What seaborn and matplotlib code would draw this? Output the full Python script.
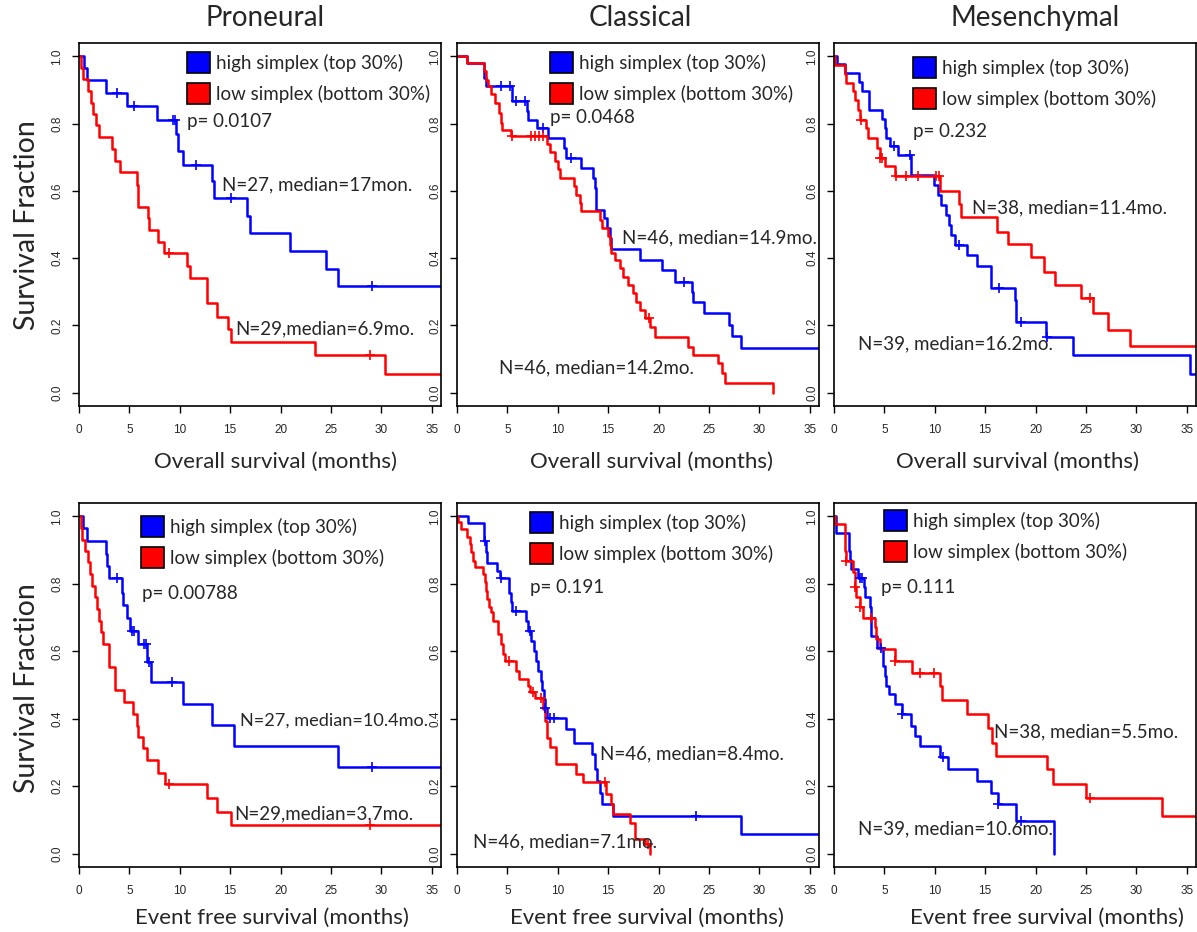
import numpy as np
import seaborn as sns
import matplotlib.pyplot as plt
from matplotlib.patches import Rectangle

# Kaplan-Meier steps: time of each drop (months) and survival after it,
# censor times, and last follow-up time of each group.

# Proneural, overall survival
pn_os_hi_t = [0.5, 0.83, 2.68, 4.8, 7.72, 9.64, 9.87, 10.3, 13.18, 13.4, 16.66, 17.0, 20.96, 24.5, 25.7]
pn_os_hi_s = [0.965, 0.929, 0.891, 0.853, 0.8115, 0.769, 0.719, 0.676, 0.628, 0.578, 0.526, 0.474, 0.422, 0.368, 0.316]
pn_os_hi_c = [3.74, 5.46, 9.3, 9.54, 11.6, 15.1, 29.07]
pn_os_lo_t = [0.17, 0.36, 0.93, 1.16, 1.36, 1.69, 1.99, 3.31, 3.58, 4.07, 5.79, 5.89, 6.82, 6.95, 7.88, 8.48,
              10.7, 11.03, 12.68, 13.74, 14.74, 15.07, 23.44, 30.4]
pn_os_lo_s = [0.965, 0.9325, 0.896, 0.861, 0.828, 0.795, 0.759, 0.725, 0.69, 0.656, 0.618, 0.552, 0.519, 0.484,
              0.449, 0.415, 0.378, 0.34, 0.266, 0.226, 0.189, 0.152, 0.112, 0.056]
pn_os_lo_c = [8.97, 28.84]

# Classical, overall survival
cl_os_hi_t = [1.03, 2.68, 2.91, 5.46, 6.99, 7.05, 7.98, 9.04, 10.63, 10.86, 12.35, 13.51, 13.68, 13.84, 14.6,
              14.93, 15.17, 15.33, 18.15, 20.3, 21.62, 23.28, 23.44, 24.54, 27.02, 27.25, 28.18]
cl_os_hi_s = [0.98, 0.936, 0.911, 0.866, 0.836, 0.8115, 0.787, 0.757, 0.727, 0.698, 0.668, 0.638, 0.608, 0.544,
              0.519, 0.491, 0.461, 0.428, 0.395, 0.365, 0.33, 0.3, 0.271, 0.236, 0.201, 0.17, 0.134]
cl_os_hi_c = [4.4, 5.3, 5.89, 6.79, 8.54, 11.36, 22.55]
cl_os_lo_t = [1.03, 2.68, 2.91, 3.08, 3.41, 3.74, 4.14, 4.4, 4.5, 5.4, 8.97, 9.2, 9.7, 10.0, 10.2, 11.62, 11.85,
              12.19, 12.35, 14.17, 14.34, 15.0, 15.17, 15.33, 15.66, 16.16, 16.49, 16.99, 17.48, 17.81, 18.15,
              18.64, 19.14, 19.64, 22.95, 23.44, 25.86, 26.26, 26.59, 31.39]
cl_os_lo_s = [0.98, 0.955, 0.931, 0.911, 0.888, 0.861, 0.831, 0.802, 0.782, 0.762, 0.74, 0.715, 0.69, 0.665,
              0.638, 0.613, 0.588, 0.563, 0.541, 0.514, 0.491, 0.467, 0.44, 0.415, 0.395, 0.372, 0.345, 0.32,
              0.296, 0.271, 0.246, 0.221, 0.196, 0.167, 0.137, 0.112, 0.087, 0.058, 0.028, 0.0]
cl_os_lo_c = [5.46, 7.32, 7.78, 8.11, 8.54, 19.1]

# Mesenchymal, overall survival
me_os_hi_t = [0.3, 1.06, 2.48, 2.78, 3.48, 4.77, 5.03, 5.2, 5.53, 6.36, 7.62, 9.93, 10.33, 10.6, 11.16, 11.39,
              11.59, 11.99, 13.15, 14.14, 15.53, 17.95, 18.05, 21.03, 23.74, 35.33]
me_os_hi_s = [0.977, 0.95, 0.924, 0.896, 0.841, 0.815, 0.787, 0.757, 0.732, 0.707, 0.646, 0.616, 0.588, 0.559,
              0.529, 0.499, 0.469, 0.44, 0.408, 0.378, 0.3125, 0.276, 0.209, 0.167, 0.112, 0.055]
me_os_hi_c = [5.96, 7.5, 12.4, 16.36, 18.54, 21.1]
me_os_lo_t = [0.07, 1.13, 1.23, 1.89, 2.05, 2.38, 2.55, 3.21, 3.38, 4.3, 4.54, 5.03, 6.09, 10.5, 12.42, 12.65,
              16.13, 17.22, 19.54, 20.83, 21.92, 24.5, 25.73, 27.15, 29.37]
me_os_lo_s = [0.975, 0.947, 0.921, 0.896, 0.871, 0.841, 0.8115, 0.787, 0.757, 0.727, 0.699, 0.673, 0.643,
              0.601, 0.56, 0.521, 0.479, 0.441, 0.402, 0.36, 0.32, 0.281, 0.236, 0.187, 0.14]
me_os_lo_c = [2.72, 4.6, 4.77, 6.19, 7.12, 8.34, 10.17, 10.45, 25.4]

# Proneural, event free survival
pn_ef_hi_t = [0.43, 0.83, 2.68, 2.81, 3.01, 4.24, 4.4, 4.8, 5.07, 5.89, 6.72, 7.12, 10.36, 13.18, 15.4, 25.7]
pn_ef_hi_s = [0.964, 0.928, 0.888, 0.854, 0.816, 0.774, 0.738, 0.7, 0.661, 0.621, 0.567, 0.51, 0.445, 0.382,
              0.318, 0.257]
pn_ef_hi_c = [3.81, 5.23, 5.46, 6.46, 6.66, 6.99, 9.27, 29.07]
pn_ef_lo_t = [0.17, 0.33, 0.6, 0.93, 1.09, 1.26, 1.59, 1.75, 1.99, 2.15, 2.42, 3.01, 3.58, 4.47, 5.4, 5.73,
              5.89, 6.32, 6.79, 7.88, 8.54, 12.68, 13.74, 15.07]
pn_ef_lo_s = [0.965, 0.931, 0.898, 0.864, 0.829, 0.794, 0.76, 0.725, 0.69, 0.656, 0.621, 0.552, 0.485, 0.451,
              0.415, 0.379, 0.346, 0.313, 0.277, 0.24, 0.208, 0.166, 0.125, 0.085]
pn_ef_lo_c = [8.97, 28.84]

# Classical, event free survival
cl_ef_hi_t = [1.09, 2.68, 2.91, 3.01, 4.0, 4.24, 5.13, 5.33, 5.46, 6.89, 7.05, 7.38, 7.65, 7.88, 8.05, 8.31,
              8.48, 8.64, 8.77, 8.97, 10.86, 11.62, 13.44, 13.68, 13.94, 14.17, 14.4, 15.5, 28.18]
cl_ef_hi_s = [0.979, 0.928, 0.893, 0.863, 0.839, 0.816, 0.774, 0.745, 0.718, 0.69, 0.661, 0.631, 0.601, 0.572,
              0.542, 0.513, 0.485, 0.458, 0.433, 0.402, 0.369, 0.329, 0.295, 0.25, 0.216, 0.181, 0.146, 0.112,
              0.057]
cl_ef_hi_c = [2.81, 4.4, 5.89, 7.22, 8.77, 9.21, 9.64, 23.68]
cl_ef_lo_t = [0.1, 0.36, 1.03, 1.26, 1.42, 1.59, 1.75, 2.58, 2.81, 2.91, 3.01, 3.15, 3.34, 3.58, 4.07, 4.34,
              4.57, 4.8, 5.89, 6.13, 7.05, 7.22, 7.78, 8.54, 8.77, 8.97, 9.21, 9.87, 11.85, 12.52, 14.83, 15.33,
              15.5, 17.15, 17.65, 18.64, 19.14]
cl_ef_lo_s = [0.982, 0.962, 0.938, 0.918, 0.893, 0.868, 0.849, 0.829, 0.804, 0.779, 0.754, 0.73, 0.715, 0.69,
              0.651, 0.621, 0.591, 0.57, 0.542, 0.517, 0.498, 0.478, 0.461, 0.428, 0.394, 0.344, 0.317, 0.265,
              0.235, 0.211, 0.178, 0.146, 0.117, 0.092, 0.043, 0.028, 0.0]
cl_ef_lo_c = [5.13, 7.55, 8.31, 14.67, 18.97]

# Mesenchymal, event free survival
me_ef_hi_t = [0.23, 1.46, 1.56, 1.72, 2.38, 2.98, 3.05, 3.54, 3.64, 3.71, 4.3, 4.87, 5.03, 5.2, 5.43, 6.03,
              6.75, 7.62, 8.01, 8.51, 10.5, 11.32, 14.14, 15.53, 16.23, 18.01, 21.85]
me_ef_hi_s = [0.952, 0.898, 0.871, 0.844, 0.817, 0.79, 0.76, 0.73, 0.676, 0.646, 0.611, 0.557, 0.527, 0.498,
              0.473, 0.443, 0.413, 0.379, 0.349, 0.319, 0.287, 0.25, 0.216, 0.181, 0.146, 0.097, 0.0]
me_ef_hi_c = [2.55, 2.78, 4.64, 6.75, 10.83, 16.29, 18.54]
me_ef_lo_t = [0.13, 1.06, 1.23, 1.89, 2.05, 2.22, 2.55, 2.88, 4.04, 4.2, 4.54, 6.09, 7.75, 10.5, 10.73, 13.15,
              15.3, 15.63, 16.03, 21.09, 21.75, 25.0, 32.52]
me_ef_lo_s = [0.977, 0.898, 0.868, 0.834, 0.79, 0.76, 0.73, 0.7, 0.671, 0.636, 0.606, 0.572, 0.537, 0.498,
              0.455, 0.413, 0.374, 0.329, 0.29, 0.25, 0.208, 0.166, 0.112]
me_ef_lo_c = [1.23, 2.1, 2.55, 3.71, 6.09, 8.51, 9.93, 25.4]

# last follow-up per panel (high, low); 40 = still followed beyond the axis
last_followup = [(40, 40), (40, 31.39), (40, 40), (40, 40), (40, 19.14), (21.85, 40)]

subtypes = ['Proneural', 'Classical', 'Mesenchymal']
row_xlabels = ['Overall survival (months)', 'Event free survival (months)']
legend_labels = ['high simplex (top 30%)', 'low simplex (bottom 30%)']
p_values = ['p= 0.0107', 'p= 0.0468', 'p= 0.232', 'p= 0.00788', 'p= 0.191', 'p= 0.111']
n_text_a = ['N=27, median=17mon.', 'N=46, median=14.9mo.', 'N=38, median=11.4mo.',
            'N=27, median=10.4mo.', 'N=46, median=8.4mo.', 'N=38, median=5.5mo.']
n_text_b = ['N=29,median=6.9mo.', 'N=46, median=14.2mo.', 'N=39, median=16.2mo.',
            'N=29,median=3.7mo.', 'N=46, median=7.1mo.', 'N=39, median=10.6mo.']

curves = [
    ((pn_os_hi_t, pn_os_hi_s, pn_os_hi_c), (pn_os_lo_t, pn_os_lo_s, pn_os_lo_c)),
    ((cl_os_hi_t, cl_os_hi_s, cl_os_hi_c), (cl_os_lo_t, cl_os_lo_s, cl_os_lo_c)),
    ((me_os_hi_t, me_os_hi_s, me_os_hi_c), (me_os_lo_t, me_os_lo_s, me_os_lo_c)),
    ((pn_ef_hi_t, pn_ef_hi_s, pn_ef_hi_c), (pn_ef_lo_t, pn_ef_lo_s, pn_ef_lo_c)),
    ((cl_ef_hi_t, cl_ef_hi_s, cl_ef_hi_c), (cl_ef_lo_t, cl_ef_lo_s, cl_ef_lo_c)),
    ((me_ef_hi_t, me_ef_hi_s, me_ef_hi_c), (me_ef_lo_t, me_ef_lo_s, me_ef_lo_c)),
]
colors = ['#0000ff', '#ff0000']

# layout, in pixels of the 1197x932 canvas
W, H = 1197, 932
boxes = [(79, 43, 362, 363), (457, 43, 362, 363), (834, 43, 362, 363),
         (79, 503, 362, 364), (457, 503, 362, 364), (834, 503, 362, 364)]
leg_xy = [(187, 52), (550, 52), (913, 57), (141, 516), (530, 512), (884, 510)]
p_xy = [(187, 122), (550, 118), (913, 132), (142, 594), (530, 588), (881, 588)]
na_xy = [(222, 185), (622, 238), (972, 208), (240, 721), (600, 754), (994, 732)]
nb_xy = [(235, 329), (499, 368), (858, 344), (234, 814), (473, 842), (858, 829)]

sns.set_theme(style='white')
plt.rcParams['font.family'] = ['Lato', 'DejaVu Sans']

fig = plt.figure(figsize=(W / 100, H / 100), dpi=100)
renderer = fig.canvas.get_renderer()


def fx(x):
    return x / W


def fy(y):
    return 1 - y / H


def draw_curve(ax, t, s, cens, end, color):
    tt = np.r_[0.0, t]
    ss = np.r_[1.0, s]
    if end > tt[-1]:
        tt = np.r_[tt, end]
        ss = np.r_[ss, ss[-1]]
    sns.lineplot(x=tt, y=ss, drawstyle='steps-post', color=color, lw=1.8,
                 estimator=None, sort=False, ax=ax)
    cy = ss[np.searchsorted(tt, cens, side='right') - 1]
    sns.scatterplot(x=cens, y=cy, marker='+', color=color, s=45, linewidth=1.2, ax=ax, zorder=3)


tick_font = {'family': 'Liberation Sans', 'size': 8.5}

axes = []
for i, (left, top, w, h) in enumerate(boxes):
    ax = fig.add_axes([fx(left), fy(top + h), w / W, h / H])
    axes.append(ax)
    for (t, s, c), end, col in zip(curves[i], last_followup[i], colors):
        draw_curve(ax, t, s, c, end, col)

    ax.set_xlim(0, 35.92)
    ax.set_ylim(-0.0395, 1.0395)
    ax.set_xticks(np.arange(0, 36, 5))
    ax.set_yticks(np.arange(0, 1.01, 0.2))
    ax.set_xticklabels([str(v) for v in range(0, 36, 5)], fontdict=tick_font)
    ax.set_yticklabels(['%.1f' % v for v in np.arange(0, 1.01, 0.2)], fontdict=tick_font,
                       rotation=90, va='center')
    ax.tick_params(axis='both', direction='out', length=5.2, width=1, color='black',
                   left=True, bottom=True)
    ax.tick_params(axis='x', pad=8)
    ax.tick_params(axis='y', pad=6)
    ax.set_xlabel('')
    ax.set_ylabel('')
    for sp in ax.spines.values():
        sp.set_color('black')
        sp.set_linewidth(1.2)

    # legend boxes
    lx, ly = leg_xy[i]
    for k in range(2):
        y0 = ly + 31 * k
        fig.add_artist(Rectangle((fx(lx), fy(y0 + 21)), 23 / W, 21 / H, transform=fig.transFigure,
                                 facecolor=colors[k], edgecolor='black', lw=1.2))
        fig.text(fx(lx + 29), fy(y0 + 11), legend_labels[k], fontsize=13.5, va='center', ha='left')

    px, py = p_xy[i]
    fig.text(fx(px), fy(py), p_values[i], fontsize=13.5, va='center', ha='left')

# tick label boxes of every panel, used to keep the N/median notes clear of them
tick_boxes = [lab.get_window_extent(renderer) for a in axes
              for lab in a.get_yticklabels() + a.get_xticklabels()]


def hits_ticks(bb):
    return any(bb.overlaps(tb) for tb in tick_boxes)


for i, ax in enumerate(axes):
    for txt, (nx, ny) in ((n_text_a[i], na_xy[i]), (n_text_b[i], nb_xy[i])):
        tx = ax.text(fx(nx), fy(ny), txt, transform=fig.transFigure, fontsize=13.5,
                     va='center', ha='left', clip_on=True)
        while hits_ticks(tx.get_window_extent(renderer)) and tx.get_fontsize() > 10:
            tx.set_fontsize(tx.get_fontsize() - 0.1)

# column titles, axis labels
for x, name in zip([265, 640, 1035], subtypes):
    fig.text(fx(x), fy(18), name, fontsize=20, ha='center', va='center')
for x, y, lab in [(276, 462, row_xlabels[0]), (652, 462, row_xlabels[0]), (1018, 462, row_xlabels[0]),
                  (272, 918, row_xlabels[1]), (647, 918, row_xlabels[1]), (1047, 918, row_xlabels[1])]:
    fig.text(fx(x), fy(y), lab, fontsize=16, ha='center', va='center')
for y in [225, 688]:
    fig.text(fx(27), fy(y), 'Survival Fraction', fontsize=20.5, rotation=90, ha='center', va='center')

fig.savefig('out.png', dpi=100)
